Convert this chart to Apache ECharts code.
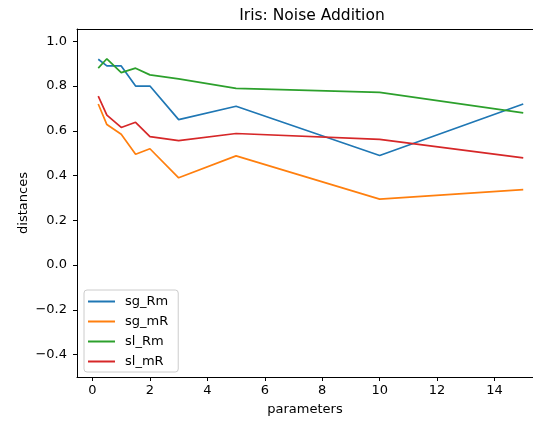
<!DOCTYPE html>
<html>
<head>
<meta charset="utf-8">
<script src="https://cdn.jsdelivr.net/npm/echarts@6/dist/echarts.min.js"></script>
<style>html,body{margin:0;padding:0;background:#fff;}#c{width:533px;height:421px;}</style>
</head>
<body>
<div id="c"></div>
<script>
const xValues = [0.2, 0.5, 1, 1.5, 2, 3, 5, 10, 15];
const sg_Rm = [0.92, 0.89, 0.89, 0.80, 0.80, 0.65, 0.71, 0.49, 0.72];
const sg_mR = [0.72, 0.628, 0.585, 0.495, 0.52, 0.39, 0.488, 0.295, 0.337];
const sl_Rm = [0.88, 0.922, 0.86, 0.88, 0.85, 0.832, 0.79, 0.772, 0.68];
const sl_mR = [0.755, 0.67, 0.615, 0.638, 0.574, 0.556, 0.588, 0.562, 0.479];
const xTicks = [0, 2, 4, 6, 8, 10, 12, 14];
const yTicks = [-0.4, -0.2, 0.0, 0.2, 0.4, 0.6, 0.8, 1.0];
const seriesNames = ['sg_Rm', 'sg_mR', 'sl_Rm', 'sl_mR'];
const seriesValues = [sg_Rm, sg_mR, sl_Rm, sl_mR];
const colors = ['#1f77b4', '#ff7f0e', '#2ca02c', '#d62728'];

const font = 'DejaVu Sans';
const fs = 13;
const chart = echarts.init(document.getElementById('c'), null, {renderer: 'canvas'});
chart.setOption({
  animation: false,
  backgroundColor: '#fff',
  color: colors,
  title: {
    text: 'Iris: Noise Addition',
    left: 312, top: 8, textAlign: 'center', padding: 0,
    textStyle: {fontFamily: font, fontSize: 15.5, fontWeight: 'normal', color: '#000'}
  },
  grid: {left: 77, top: 29, right: 0, height: 350, show: false},
  legend: {
    orient: 'vertical', left: 84, top: 290, z: 10,
    icon: 'rect', itemWidth: 27, itemHeight: 2, itemGap: 5,
    padding: [4, 10, 3, 4],
    backgroundColor: '#fff', borderColor: '#ccc', borderWidth: 1, borderRadius: 3,
    textStyle: {fontFamily: font, fontSize: fs, color: '#000', lineHeight: 15, padding: [0, 0, 0, 5]},
    data: seriesNames
  },
  xAxis: [{
    type: 'value', min: -0.54, max: 15.34,
    name: 'parameters', nameLocation: 'middle', nameGap: 26, nameMoveOverlap: false,
    nameTextStyle: {fontFamily: font, fontSize: fs, color: '#000'},
    splitLine: {show: false},
    axisLine: {show: true, onZero: false, lineStyle: {color: '#000', width: 1}},
    axisTick: {show: true, length: 4, lineStyle: {color: '#000'}, customValues: xTicks},
    axisLabel: {fontFamily: font, fontSize: fs, color: '#000', margin: 7, customValues: xTicks,
      formatter: v => String(v)}
  }, {
    type: 'value', position: 'top', min: -0.54, max: 15.34,
    splitLine: {show: false},
    axisLine: {show: true, onZero: false, lineStyle: {color: '#000', width: 1}},
    axisTick: {show: false}, axisLabel: {show: false}
  }],
  yAxis: {
    type: 'value', min: -0.5, max: 1.055,
    name: 'distances', nameLocation: 'middle', nameGap: 47, nameRotate: 90, nameMoveOverlap: false,
    nameTextStyle: {fontFamily: font, fontSize: fs, color: '#000'},
    splitLine: {show: false},
    axisLine: {show: true, onZero: false, lineStyle: {color: '#000', width: 1}},
    axisTick: {show: true, length: 4, lineStyle: {color: '#000'}, customValues: yTicks},
    axisLabel: {fontFamily: font, fontSize: fs, color: '#000', margin: 10, customValues: yTicks,
      formatter: v => (v < 0 ? '\u2212' : '') + Math.abs(v).toFixed(1)}
  },
  series: seriesNames.map((n, i) => ({
    name: n, type: 'line', showSymbol: false, symbol: 'none',
    xAxisIndex: 0,
    lineStyle: {width: 1.7, color: colors[i]},
    data: xValues.map((x, j) => [x, seriesValues[i][j]])
  }))
});
</script>
</body>
</html>
